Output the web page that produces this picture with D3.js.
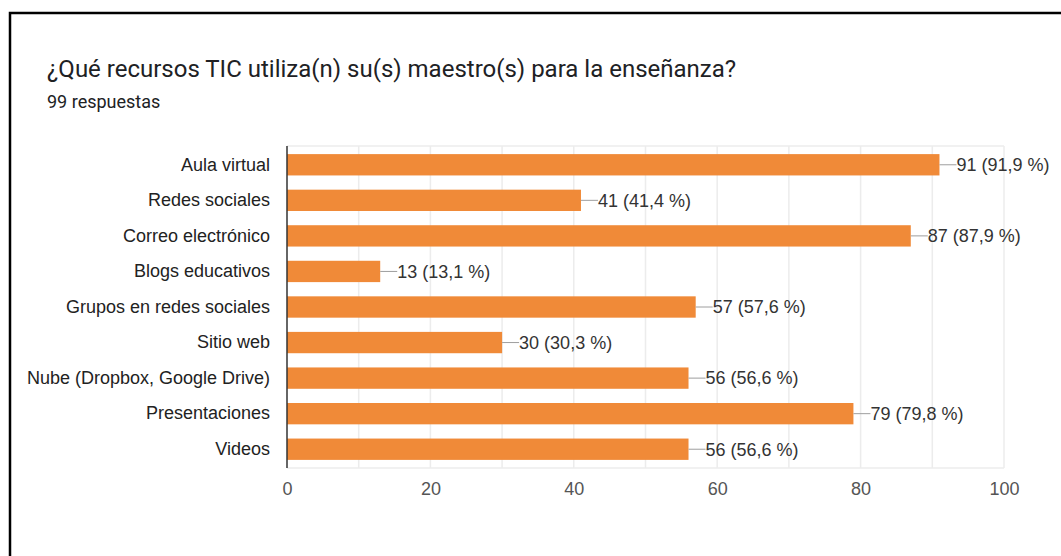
<!DOCTYPE html>
<html>
<head>
<meta charset="utf-8">
<script src="https://cdn.jsdelivr.net/npm/d3@7"></script>
<style>
  html, body { margin: 0; padding: 0; background: #fff; }
</style>
</head>
<body>
<div id="chart"></div>
<script>
const categories = [
    "Aula virtual", "Redes sociales", "Correo electrónico", "Blogs educativos",
    "Grupos en redes sociales", "Sitio web", "Nube (Dropbox, Google Drive)",
    "Presentaciones", "Videos"
];
const counts = [91, 41, 87, 13, 57, 30, 56, 79, 56];
const percents = ["91,9", "41,4", "87,9", "13,1", "57,6", "30,3", "56,6", "79,8", "56,6"];
const xTicks = [0, 20, 40, 60, 80, 100];

const W = 1061, H = 556;
const plot = { left: 287, right: 1004, top: 147, bottom: 467 };
const labelFont = "'Liberation Sans', Arial, sans-serif";

const svg = d3.select("#chart").append("svg")
    .attr("width", W)
    .attr("height", H);

// frame of the screenshot
svg.append("path")
    .attr("d", `M10,${H + 5} L10,13 L${W + 5},13`)
    .attr("fill", "none")
    .attr("stroke", "#000")
    .attr("stroke-width", 2.5);

svg.append("text")
    .attr("x", 47)
    .attr("y", 77)
    .attr("font-family", "Roboto, sans-serif")
    .attr("font-size", "24px")
    .attr("fill", "#202124")
    .text("¿Qué recursos TIC utiliza(n) su(s) maestro(s) para la enseñanza?");

svg.append("text")
    .attr("x", 47)
    .attr("y", 108)
    .attr("font-family", "Roboto, sans-serif")
    .attr("font-size", "18px")
    .attr("fill", "#202124")
    .text("99 respuestas");

const x = d3.scaleLinear().domain([0, 100]).range([plot.left, plot.right]);
const y = d3.scaleBand().domain(categories).range([plot.top, plot.bottom]).paddingInner(0.4).paddingOuter(0.2);

// grid every 10
const grid = svg.append("g");
grid.selectAll("line")
    .data(d3.range(10, 101, 10))
    .enter().append("line")
    .attr("x1", d => x(d)).attr("x2", d => x(d))
    .attr("y1", plot.top - 1).attr("y2", plot.bottom + 1)
    .attr("stroke", "#ececec")
    .attr("stroke-width", 1.5);
grid.selectAll("line.h")
    .data([plot.top - 1, plot.bottom + 1])
    .enter().append("line")
    .attr("class", "h")
    .attr("x1", plot.left).attr("x2", plot.right)
    .attr("y1", d => d).attr("y2", d => d)
    .attr("stroke", "#ececec")
    .attr("stroke-width", 1.5);

// bars
svg.append("g").selectAll("rect")
    .data(categories)
    .enter().append("rect")
    .attr("x", x(0))
    .attr("y", d => y(d))
    .attr("width", (d, i) => x(counts[i]) - x(0))
    .attr("height", y.bandwidth())
    .attr("fill", "#f08a38");

// leader lines + value labels
const lab = svg.append("g");
categories.forEach((c, i) => {
    const cy = y(c) + y.bandwidth() / 2;
    const xe = x(counts[i]);
    lab.append("line")
        .attr("x1", xe).attr("x2", xe + 17)
        .attr("y1", cy).attr("y2", cy)
        .attr("stroke", "#9e9e9e")
        .attr("stroke-width", 1);
    lab.append("text")
        .attr("x", xe + 17)
        .attr("y", cy)
        .attr("dy", "0.35em")
        .attr("font-family", labelFont)
        .attr("font-size", "18px")
        .attr("fill", "#333")
        .text(`${counts[i]} (${percents[i]} %)`);
});

// y axis
const yAxis = svg.append("g")
    .attr("transform", `translate(${plot.left},0)`)
    .call(d3.axisLeft(y).tickSize(0).tickPadding(17));
yAxis.select(".domain")
    .attr("stroke", "#333")
    .attr("stroke-width", 1.5)
    .attr("d", `M0,${plot.top - 1}V${plot.bottom + 1}`);
yAxis.selectAll("text")
    .attr("font-family", labelFont)
    .attr("font-size", "18px")
    .attr("fill", "#222");

// x axis
const xAxis = svg.append("g")
    .attr("transform", `translate(0,${plot.bottom})`)
    .call(d3.axisBottom(x).tickValues(xTicks).tickSize(0).tickPadding(15));
xAxis.select(".domain").remove();
xAxis.selectAll("text")
    .attr("font-family", labelFont)
    .attr("font-size", "18px")
    .attr("fill", "#555");
</script>
</body>
</html>
